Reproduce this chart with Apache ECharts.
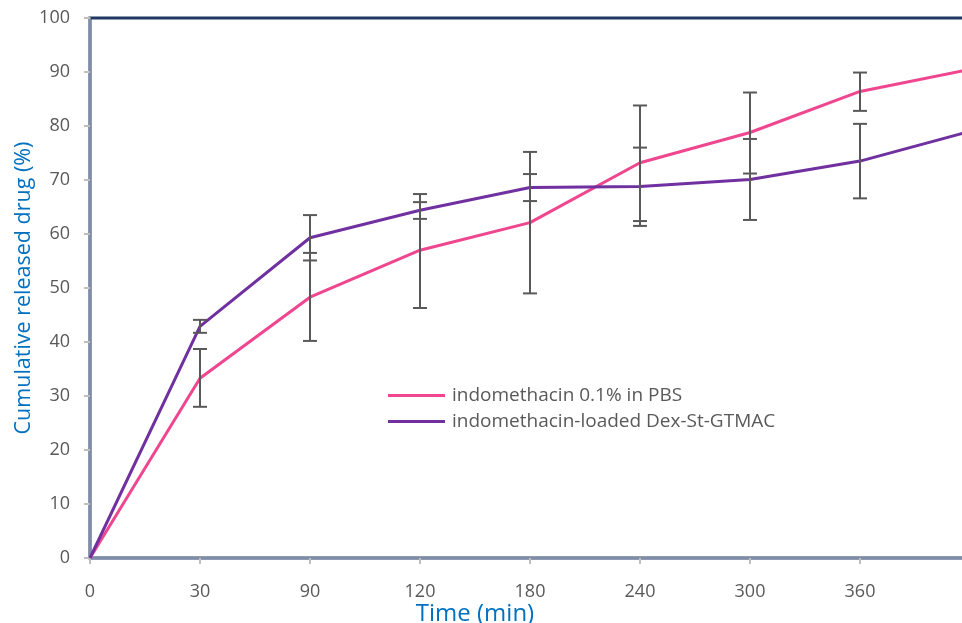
<!DOCTYPE html>
<html>
<head>
<meta charset="utf-8">
<script src="https://cdn.jsdelivr.net/npm/echarts@6/dist/echarts.min.js"></script>
<style>html,body{margin:0;padding:0;background:#fff;}#c{width:962px;height:623px;}</style>
</head>
<body>
<div id="c"></div>
<script>
const categories = ['0','30','90','120','180','240','300','360','420'];
const pinkName = 'indomethacin 0.1% in PBS';
const purpleName = 'indomethacin-loaded Dex-St-GTMAC';
const pinkValues = [0, 33.3, 48.3, 57.0, 62.1, 73.2, 78.8, 86.4, 90.5];
const pinkLow  = [null, 28.0, 40.2, 46.3, 49.0, 62.4, 71.2, 82.8, null];
const pinkHigh = [null, 38.7, 56.5, 67.4, 75.2, 83.8, 86.2, 89.9, null];
const purpleValues = [0, 42.9, 59.3, 64.4, 68.6, 68.8, 70.1, 73.5, 79.0];
const purpleLow  = [null, 41.7, 55.1, 62.8, 66.1, 61.5, 62.6, 66.6, null];
const purpleHigh = [null, 44.1, 63.5, 65.9, 71.1, 76.0, 77.6, 80.4, null];
const yTicks = [0,10,20,30,40,50,60,70,80,90,100];

function errData(low, high){
  const out = [];
  for (let i = 0; i < low.length; i++) if (low[i] != null) out.push([i, low[i], high[i]]);
  return out;
}
function renderErr(params, api){
  const x = api.value(0);
  const lo = api.coord([x, api.value(1)]);
  const hi = api.coord([x, api.value(2)]);
  const w = 7;
  const st = {stroke:'#595959', lineWidth:2};
  return {type:'group', children:[
    {type:'line', shape:{x1:lo[0],y1:lo[1],x2:hi[0],y2:hi[1]}, style:st},
    {type:'line', shape:{x1:lo[0]-w,y1:lo[1],x2:lo[0]+w,y2:lo[1]}, style:st},
    {type:'line', shape:{x1:hi[0]-w,y1:hi[1],x2:hi[0]+w,y2:hi[1]}, style:st}
  ]};
}
const font = 'Open Sans';
const chart = echarts.init(document.getElementById('c'), null, {renderer:'canvas'});
chart.setOption({
  animation:false,
  backgroundColor:'#ffffff',
  grid:{left:90, width:880, top:18, height:540, outerBoundsMode:'none', containLabel:false,
    show:true, borderColor:'#1F3864', borderWidth:3, backgroundColor:'transparent'},
  legend:{
    left:383, top:381, orient:'vertical', itemGap:7,
    icon:'rect', itemWidth:57, itemHeight:3,
    textStyle:{fontFamily:font, fontSize:19, color:'#595959', padding:[0,0,0,2]},
    data:[pinkName, purpleName]
  },
  xAxis:{
    type:'category', data:categories, boundaryGap:false,
    name:'Time (min)', nameLocation:'middle', nameGap:44, nameMoveOverlap:false,
    nameTextStyle:{fontFamily:font, fontSize:24, color:'#0070C0', padding:[0,110,0,0]},
    axisLine:{lineStyle:{color:'#7F8CA8', width:2}},
    axisTick:{show:true, length:6, lineStyle:{color:'#BFBFBF', width:2}},
    axisLabel:{fontFamily:font, fontSize:18, color:'#595959', margin:25,
      formatter:(v, i) => i < categories.length - 1 ? v : ''},
    splitLine:{show:false}
  },
  yAxis:{
    type:'value', min:yTicks[0], max:yTicks[yTicks.length-1], interval:10,
    name:'Cumulative released drug (%)', nameLocation:'middle', nameGap:55, nameMoveOverlap:false,
    nameTextStyle:{fontFamily:font, fontSize:21.5, color:'#0070C0'},
    axisLine:{show:true, lineStyle:{color:'#7F8CA8', width:2}},
    axisTick:{show:true, length:6, lineStyle:{color:'#BFBFBF', width:2}},
    axisLabel:{fontFamily:font, fontSize:18, color:'#595959', margin:20},
    splitLine:{show:false}
  },
  series:[
    {name:pinkName, type:'line', data:pinkValues, showSymbol:false, symbol:'none',
      lineStyle:{color:'#EF468F', width:3}, itemStyle:{color:'#EF468F'}, z:3},
    {name:purpleName, type:'line', data:purpleValues, showSymbol:false, symbol:'none',
      lineStyle:{color:'#7030A0', width:3}, itemStyle:{color:'#7030A0'}, z:3},
    {type:'custom', renderItem:renderErr, data:errData(pinkLow, pinkHigh), z:4, silent:true},
    {type:'custom', renderItem:renderErr, data:errData(purpleLow, purpleHigh), z:4, silent:true}
  ]
});
</script>
</body>
</html>
